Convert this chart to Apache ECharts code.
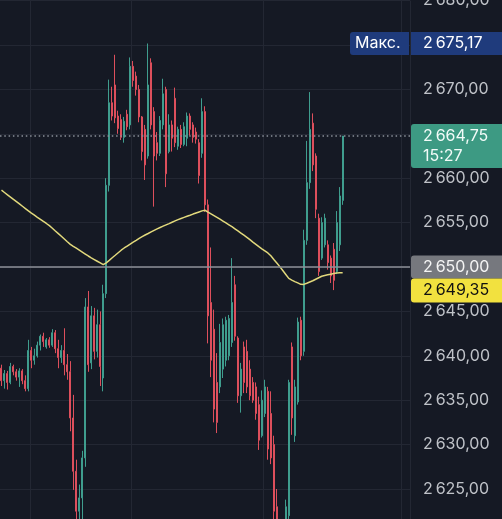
<!DOCTYPE html>
<html><head><meta charset="utf-8">
<script src="https://cdn.jsdelivr.net/npm/echarts@6/dist/echarts.min.js"></script>
<style>html,body{margin:0;padding:0;background:#151924;}#c{width:502px;height:519px;}</style>
</head><body><div id="c"></div>
<script>
const opens = [2638.6,2637.2,2638.0,2637.0,2638.8,2638.2,2637.6,2638.3,2637.2,2636.3,
2640.6,2639.5,2640.0,2641.2,2642.2,2641.0,2641.8,2641.2,2642.6,2640.8,
2639.8,2640.6,2639.0,2638.2,2633.0,2627.0,2622.5,2624.0,2628.5,2645.5,
2639.2,2644.5,2640.5,2643.5,2637.5,2647.0,2659.2,2668.5,2670.5,2667.0,
2666.6,2664.6,2667.2,2666.0,2672.6,2671.5,2670.0,2666.9,2665.5,2662.5,
2673.0,2667.5,2664.0,2662.8,2666.0,2670.0,2663.0,2666.0,2669.0,2663.6,
2665.5,2663.8,2664.5,2667.0,2666.0,2665.2,2664.0,2662.8,2667.5,2657.0,
2646.0,2643.0,2637.0,2636.5,2638.5,2639.5,2640.0,2641.5,2648.0,2642.0,
2635.5,2641.0,2640.5,2638.5,2637.0,2636.5,2634.5,2631.0,2633.5,2636.0,
2633.5,2630.0,2623.0,2620.0,2617.5,2619.0,2622.0,2641.0,2631.0,2634.8,
2644.0,2640.5,2653.0,2659.5,2666.2,2662.5,2655.5,2651.0,2652.5,2652.5,
2651.0,2652.0,2649.5,2652.5,2657.5];
const closes = [2637.2,2638.0,2637.0,2638.8,2638.2,2637.6,2638.3,2637.2,2636.3,2640.6,
2639.5,2640.0,2641.2,2642.2,2641.6,2641.8,2641.2,2642.6,2640.8,2639.8,
2640.6,2639.0,2638.2,2633.0,2627.0,2622.5,2624.0,2628.5,2645.5,2639.0,
2644.5,2640.5,2643.5,2638.8,2647.0,2659.2,2668.5,2667.0,2666.8,2665.6,
2664.6,2666.4,2665.8,2672.6,2671.0,2670.0,2666.9,2663.0,2661.5,2670.5,
2666.0,2662.5,2662.8,2666.5,2669.5,2660.5,2666.0,2664.5,2664.0,2665.5,
2663.8,2665.8,2667.0,2665.5,2664.6,2664.4,2660.3,2667.5,2657.0,2644.5,
2639.5,2634.0,2632.5,2641.5,2643.5,2644.0,2644.2,2646.0,2642.2,2635.5,
2638.5,2637.0,2636.5,2635.5,2635.0,2633.5,2630.5,2635.0,2636.5,2629.5,
2628.5,2622.5,2620.0,2617.5,2619.0,2623.0,2637.0,2633.0,2636.5,2643.8,
2640.0,2653.0,2659.5,2665.5,2661.5,2656.5,2649.5,2655.0,2655.5,2650.5,
2649.0,2648.5,2655.0,2658.0,2664.75];
const highs = [2639.0,2638.4,2638.3,2639.2,2639.0,2638.5,2638.6,2638.5,2637.8,2641.8,
2641.0,2640.8,2641.6,2642.4,2642.6,2642.0,2642.1,2643.0,2642.9,2641.8,
2641.2,2643.1,2640.2,2639.4,2635.6,2628.3,2625.5,2629.3,2646.5,2647.3,
2645.6,2645.4,2645.2,2645.0,2648.0,2660.0,2671.1,2670.3,2673.9,2667.6,
2667.2,2666.9,2667.7,2673.6,2673.2,2672.0,2670.5,2667.0,2666.0,2675.17,
2673.5,2668.0,2665.2,2667.0,2671.2,2670.3,2667.2,2666.5,2670.2,2665.8,
2666.0,2666.3,2667.4,2667.3,2666.3,2665.7,2664.4,2669.0,2668.1,2657.6,
2652.2,2645.2,2640.3,2643.6,2644.2,2644.4,2644.6,2651.0,2649.0,2642.2,
2639.2,2641.6,2641.8,2639.5,2637.6,2637.0,2635.4,2636.1,2637.3,2636.5,
2636.0,2631.0,2625.0,2621.0,2620.5,2623.8,2637.3,2641.5,2637.3,2644.3,
2644.4,2654.2,2664.2,2669.7,2667.3,2662.8,2656.0,2655.6,2656.0,2653.0,
2651.3,2652.7,2656.3,2659.0,2664.75];
const lows = [2636.6,2636.3,2636.2,2636.8,2637.8,2637.2,2636.5,2636.8,2636.0,2636.0,
2638.6,2639.0,2639.8,2640.6,2641.0,2640.8,2640.9,2641.0,2640.3,2638.6,
2639.2,2637.8,2637.3,2631.5,2624.9,2619.5,2619.0,2621.0,2627.5,2638.2,
2638.5,2639.6,2639.8,2636.6,2636.0,2646.5,2658.5,2666.5,2666.2,2665.0,
2664.3,2664.0,2665.4,2665.5,2670.3,2669.3,2666.3,2662.0,2659.8,2662.2,
2665.5,2656.8,2662.0,2662.5,2665.5,2659.0,2662.8,2663.0,2663.5,2663.2,
2663.4,2663.6,2663.6,2664.8,2664.0,2663.9,2659.4,2662.3,2656.2,2641.4,
2637.6,2632.5,2631.3,2635.8,2637.5,2638.8,2639.5,2641.0,2641.7,2634.7,
2633.6,2635.8,2635.8,2635.0,2634.7,2632.8,2629.4,2630.8,2633.1,2628.3,
2627.8,2621.0,2618.5,2616.5,2616.0,2618.0,2621.0,2631.1,2630.3,2634.5,
2639.5,2640.0,2652.5,2658.8,2660.8,2655.5,2649.0,2650.8,2652.2,2649.7,
2648.2,2647.4,2649.2,2651.8,2657.0];
const maValues = [2658.65,2658.39,2658.13,2657.87,2657.61,2657.36,2657.10,2656.84,2656.58,2656.32,
2656.07,2655.84,2655.60,2655.37,2655.13,2654.90,2654.66,2654.37,2654.06,2653.76,
2653.46,2653.15,2652.84,2652.55,2652.33,2652.12,2651.90,2651.68,2651.46,2651.24,
2651.03,2650.84,2650.65,2650.46,2650.26,2650.47,2650.75,2651.04,2651.32,2651.61,
2651.89,2652.14,2652.36,2652.58,2652.80,2653.01,2653.23,2653.42,2653.60,2653.77,
2653.95,2654.13,2654.30,2654.45,2654.60,2654.75,2654.89,2655.04,2655.19,2655.34,
2655.47,2655.59,2655.71,2655.83,2655.96,2656.08,2656.20,2656.32,2656.39,2656.18,
2655.98,2655.78,2655.58,2655.38,2655.17,2654.96,2654.75,2654.54,2654.30,2654.06,
2653.82,2653.58,2653.34,2653.08,2652.81,2652.55,2652.29,2652.05,2651.82,2651.58,
2651.26,2650.85,2650.45,2650.04,2649.60,2649.16,2648.72,2648.52,2648.36,2648.21,
2648.05,2648.04,2648.17,2648.31,2648.45,2648.62,2648.79,2648.96,2649.05,2649.12,
2649.19,2649.26,2649.32,2649.34,2649.35];
const emptySlots = 22;
const maxPrice = 2675.17;
const maxLabel = 'Макс.';
const lastPrice = 2664.75;
const lastTime = '15:27';
const levelPrice = 2650.00;
const maLast = 2649.35;
const yMin = 2620, yMax = 2680, yStep = 5;
const gridCats = [10, 44, 88, 134];

const UP = '#3f9d8e', DOWN = '#dd4f5c';
function fmt(v){ const s = v.toFixed(2).replace('.', ','); return s.slice(0,1) + '\u202F' + s.slice(1); }

const total = opens.length + emptySlots;
const cats = Array.from({length: total}, (_, i) => String(i));
const candles = opens.map((o, i) => [o, closes[i], lows[i], highs[i]]);

const chart = echarts.init(document.getElementById('c'), null, {renderer: 'canvas'});
const FONT = 'Inter';
chart.setOption({
  backgroundColor: '#151924',
  animation: false,
  grid: {left: 0, right: 92, top: 0.6, height: 532.8, containLabel: false, outerBoundsMode: 'none'},
  xAxis: {
    type: 'category', data: cats, boundaryGap: true,
    axisLine: {show: false}, axisTick: {show: false}, axisLabel: {show: false},
    splitLine: {show: true, interval: (idx) => gridCats.indexOf(idx) >= 0,
      lineStyle: {color: '#232733', width: 1}}
  },
  yAxis: {
    type: 'value', position: 'right', min: yMin, max: yMax, interval: yStep,
    axisLine: {show: false}, axisTick: {show: false},
    axisLabel: {color: '#bfc2c8', fontSize: 16, fontFamily: FONT, margin: 13,
      formatter: v => fmt(v)},
    splitLine: {show: true, lineStyle: {color: '#232733', width: 1}}
  },
  series: [
    {
      type: 'candlestick', data: candles, barWidth: 1.5, z: 2,
      itemStyle: {color: UP, color0: DOWN, borderColor: UP, borderColor0: DOWN, borderWidth: 1},
      markLine: {
        silent: true, symbol: ['none', 'none'], label: {show: false}, z: 5,
        data: [
          {yAxis: levelPrice, lineStyle: {color: '#8e9199', width: 1.5, type: 'solid'}},
          {yAxis: lastPrice, lineStyle: {color: '#8b9099', width: 1.5, type: [1.5, 2.8]}}
        ]
      }
    },
    {
      type: 'line', data: maValues, showSymbol: false, z: 4,
      lineStyle: {color: '#e2d97c', width: 1.5}
    }
  ]
});

const yOf = v => chart.convertToPixel({yAxisIndex: 0}, v);
const LX = 411, LW = 91, TX = 423, H = 23;
const yM = yOf(maxPrice), yL = yOf(lastPrice), yLv = yOf(levelPrice), yMa = yOf(maLast);
const grayTop = yLv - H / 2;
const yellowTop = Math.max(yMa - H / 2, grayTop + H);
const txt = (x, y, s, color) => ({type: 'text', x: x, y: y, z: 20,
  style: {text: s, fill: color, font: '16px ' + FONT, textVerticalAlign: 'middle', verticalAlign: 'middle'}});
chart.setOption({
  graphic: [
    {type: 'rect', z: 19, shape: {x: 350, y: yM - H / 2, width: 59, height: H, r: [3, 0, 0, 3]}, style: {fill: '#1f3b7c'}},
    txt(355, yM, maxLabel, '#ffffff'),
    {type: 'rect', z: 19, shape: {x: LX, y: yM - H / 2, width: LW, height: H}, style: {fill: '#1f3b7c'}},
    txt(TX, yM, fmt(maxPrice), '#ffffff'),
    {type: 'rect', z: 19, shape: {x: LX, y: yL - 12, width: LW, height: 44, r: [3, 0, 0, 3]}, style: {fill: '#3d9a83'}},
    txt(TX, yL, fmt(lastPrice), '#f2fbf8'),
    txt(TX, yL + 20, lastTime, '#f2fbf8'),
    {type: 'rect', z: 19, shape: {x: LX, y: grayTop, width: LW, height: H, r: [3, 0, 0, 3]}, style: {fill: '#76787e'}},
    txt(TX, yLv, fmt(levelPrice), '#f4f4f4'),
    {type: 'rect', z: 19, shape: {x: LX, y: yellowTop, width: LW, height: H + 1, r: [3, 0, 0, 3]}, style: {fill: '#f2e13f'}},
    txt(TX, yellowTop + (H + 1) / 2, fmt(maLast), '#111111')
  ]
});
</script></body></html>
